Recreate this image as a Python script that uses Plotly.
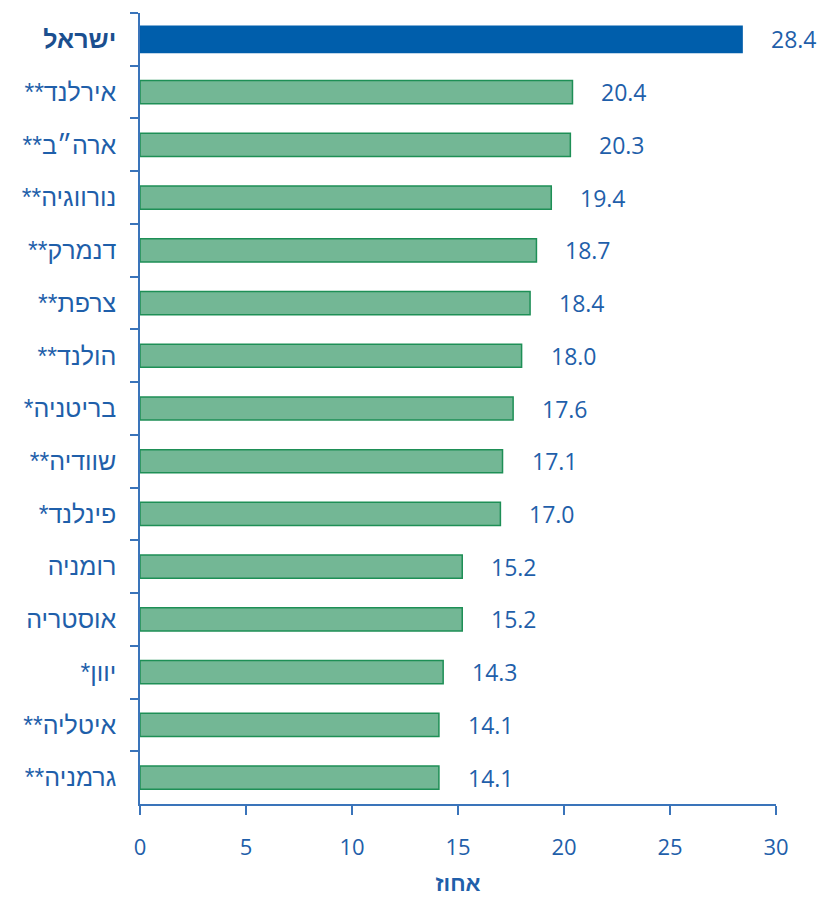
import plotly.graph_objects as go

RLM = "\u200f"  # keeps the trailing stars on the left side of the Hebrew names

countries = [
    "ישראל", "אירלנד**", "ארה״ב**", "נורווגיה**", "דנמרק**", "צרפת**",
    "הולנד**", "בריטניה*", "שוודיה**", "פינלנד*", "רומניה", "אוסטריה",
    "יוון*", "איטליה**", "גרמניה**",
]
values = [28.4, 20.4, 20.3, 19.4, 18.7, 18.4, 18.0, 17.6, 17.1, 17.0, 15.2, 15.2, 14.3, 14.1, 14.1]
x_ticks = [0, 5, 10, 15, 20, 25, 30]
x_title = "אחוז"

blue = "#005EAB"
green_fill = "#73B795"
green_line = "#1E8F56"
text_blue = "#1F5FAA"
axis_blue = "#3A74BA"

labels = [c + RLM for c in countries]
labels[0] = "<b><span style='color:#1B4F8F'>" + countries[0] + "</span></b>"

fills = [blue] + [green_fill] * (len(values) - 1)
lines = [blue] + [green_line] * (len(values) - 1)
widths = [0.5] + [0.44] * (len(values) - 1)

fig = go.Figure(
    go.Bar(
        x=values,
        y=labels,
        orientation="h",
        width=widths,
        marker=dict(color=fills, line=dict(color=lines, width=1.5)),
        hoverinfo="x+y",
    )
)

for lab, v in zip(labels, values):
    fig.add_annotation(
        x=v, y=lab, text=f"{v:.1f}", showarrow=False,
        xanchor="left", xshift=27,
        font=dict(size=23, color=text_blue),
    )

font = "Open Sans, Liberation Sans, DejaVu Sans, sans-serif"
# the page body has an 8px margin, so margins are shifted to compensate
fig.update_layout(
    width=825,
    height=899,
    margin=dict(l=132, r=57, t=5, b=103),
    paper_bgcolor="white",
    plot_bgcolor="white",
    font=dict(family=font, size=22, color=text_blue),
    showlegend=False,
)
fig.update_xaxes(
    range=[0, 30],
    tickvals=x_ticks,
    showgrid=False,
    zeroline=False,
    showline=True,
    linecolor=axis_blue,
    linewidth=1.5,
    ticks="outside",
    ticklen=9,
    tickwidth=1.5,
    tickcolor=axis_blue,
    ticklabelstandoff=14,
    tickfont=dict(size=22, color=text_blue),
    title=dict(text="<b>" + x_title + "</b>", font=dict(family="Liberation Sans, sans-serif", size=22, color=text_blue), standoff=15),
)
fig.update_yaxes(
    autorange="reversed",
    showgrid=False,
    showline=True,
    linecolor=axis_blue,
    linewidth=1.5,
    ticks="outside",
    tickson="boundaries",
    ticklen=8,
    tickwidth=1.5,
    tickcolor=axis_blue,
    ticklabelstandoff=17,
    tickfont=dict(family="Liberation Sans, sans-serif", size=25, color=text_blue),
)

fig.write_html("out.html")
